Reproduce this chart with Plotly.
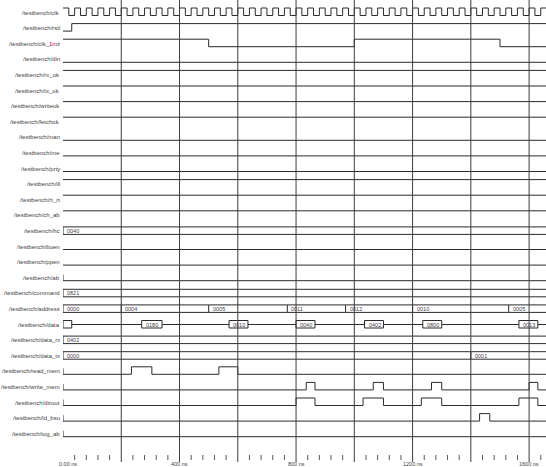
import plotly.graph_objects as go

# ---------------- data ----------------
signal_names = ["clk", "rstl", "clk_1mz", "din", "rx_ok", "tx_ok", "writeok", "fetchok",
                "man", "me", "prty", "ill", "rt_rt", "ch_ab", "hc", "boen", "ppen", "ab",
                "command", "address", "data", "data_rx", "data_tx", "read_mem", "write_mem",
                "dirout", "ld_bsu", "tog_ab"]
label_prefix = "/testbench/"

clk_period_ns = 40
t_end = 1660

# single-bit signals: list of (time_ns, value)
bit_signals = {
    "rstl": [(0, 0), (30, 1)],
    "clk_1mz": [(0, 1), (500, 0), (1000, 1), (1500, 0)],
    "din": [(0, 0)],
    "rx_ok": [(0, 1)],
    "tx_ok": [(0, 1)],
    "writeok": [(0, 1)],
    "fetchok": [(0, 1)],
    "man": [(0, 0)],
    "me": [(0, 0)],
    "prty": [(0, 0)],
    "ill": [(0, 1)],
    "rt_rt": [(0, 1)],
    "ch_ab": [(0, 1)],
    "boen": [(0, 0)],
    "ppen": [(0, 0)],
    "ab": [(0, 0)],
    "read_mem": [(0, 0), (235, 1), (305, 0), (535, 1), (600, 0)],
    "write_mem": [(0, 0), (835, 1), (865, 0), (1065, 1), (1100, 0), (1265, 1), (1300, 0), (1600, 1), (1630, 0)],
    "dirout": [(0, 0), (800, 1), (865, 0), (1030, 1), (1100, 0), (1230, 1), (1300, 0), (1565, 1), (1630, 0)],
    "ld_bsu": [(0, 0), (1430, 1), (1465, 0)],
    "tog_ab": [(0, 0)],
}
undefined_at_start = ["ab", "read_mem", "write_mem", "dirout", "ld_bsu", "tog_ab"]

# bus signals: list of (start_ns, value); None = high impedance
bus_signals = {
    "hc": [(0, "0040")],
    "command": [(0, "0821")],
    "address": [(0, "0000"), (200, "0004"), (500, "0005"), (770, "0011"), (970, "0012"),
                (1200, "0010"), (1530, "0005")],
    "data": [(0, ""), (30, None), (270, "0180"), (340, None), (570, "0010"), (635, None),
             (800, "0040"), (865, None), (1035, "0402"), (1100, None), (1235, "0800"),
             (1300, None), (1565, "0013"), (1630, None)],
    "data_rx": [(0, "0402")],
    "data_tx": [(0, "0000"), (1400, "0001")],
}

grid_times = [200, 400, 600, 800, 1000, 1200, 1400, 1600]
time_label_vals = [0, 400, 800, 1200, 1600]
time_label_text = ["0.00 ns", "400 ns", "800 ns", "1200 ns", "1600 ns"]
minor_tick_step = 40

# ---------------- layout constants (pixels) ----------------
row_first = 12.5
row_step = 15.6
hi_off = -4.5
lo_off = 3.0
bus_top = -4.0
bus_bot = 3.5
wave_color = "#2b2b2b"
label_color = "#3f3f3f"

fig = go.Figure()


def row_y(i):
    return row_first + row_step * i


def level(i, v):
    return row_y(i) + (hi_off if v else lo_off)


annotations = []

for i, name in enumerate(signal_names):
    yc = row_y(i)
    annotations.append(dict(x=0, xref="paper", y=yc, yref="y", text=label_prefix + name,
                            xanchor="right", yanchor="middle", xshift=-1, showarrow=False,
                            font=dict(family="Liberation Sans", size=6, color=label_color)))
    if name == "clk":
        xs, ys = [], []
        t, v = 0, 1
        while t < t_end:
            xs.append(t)
            ys.append(level(i, v))
            t += clk_period_ns // 2
            v = 1 - v
        xs.append(t_end)
        ys.append(ys[-1])
        fig.add_trace(go.Scatter(x=xs, y=ys, mode="lines", line=dict(color=wave_color, width=1, shape="hv"),
                                 hoverinfo="skip", showlegend=False))
    elif name in bit_signals:
        ch = bit_signals[name]
        xs = [c[0] for c in ch] + [t_end]
        ys = [level(i, c[1]) for c in ch] + [level(i, ch[-1][1])]
        if name in undefined_at_start:
            xs = [0] + xs
            ys = [yc + hi_off + 1.5] + ys
        fig.add_trace(go.Scatter(x=xs, y=ys, mode="lines", line=dict(color=wave_color, width=1, shape="hv"),
                                 hoverinfo="skip", showlegend=False))
    elif name in bus_signals:
        segs = bus_signals[name]
        xs, ys = [], []
        for k, (t0, val) in enumerate(segs):
            t1 = segs[k + 1][0] if k + 1 < len(segs) else t_end
            xs += [t0, t0, None]
            ys += [yc + bus_top, yc + bus_bot, None]
            if val is None:
                xs += [t0, t1, None]
                ys += [yc, yc, None]
            else:
                xs += [t0, t1, None, t0, t1, None]
                ys += [yc + bus_top, yc + bus_top, None, yc + bus_bot, yc + bus_bot, None]
                if val:
                    annotations.append(dict(x=t0, y=yc, xref="x", yref="y", text=val, xanchor="left",
                                            yanchor="middle", xshift=2, showarrow=False,
                                            font=dict(family="Liberation Sans", size=5.5, color=label_color)))
        fig.add_trace(go.Scatter(x=xs, y=ys, mode="lines", line=dict(color=wave_color, width=1),
                                 hoverinfo="skip", showlegend=False))

# vertical grid lines
gx, gy = [], []
for g in grid_times:
    gx += [g, g, None]
    gy += [0, 462, None]
fig.add_trace(go.Scatter(x=gx, y=gy, mode="lines", line=dict(color="#3c3c3c", width=1),
                         hoverinfo="skip", showlegend=False))

# minor ticks on time axis
mx, my = [], []
t = minor_tick_step
while t < t_end:
    if t % 200 != 0:
        mx += [t, t, None]
        my += [455, 460, None]
    t += minor_tick_step
fig.add_trace(go.Scatter(x=mx, y=my, mode="lines", line=dict(color="#555555", width=1),
                         hoverinfo="skip", showlegend=False))

for v, s in zip(time_label_vals, time_label_text):
    annotations.append(dict(x=v, y=463.5, xref="x", yref="y", text=s, xanchor="center", yanchor="middle",
                            xshift=5 if v == 0 else 0,
                            showarrow=False, font=dict(family="Liberation Sans", size=5.5, color=label_color)))

fig.update_layout(
    width=546, height=467,
    margin=dict(l=63, r=0, t=0, b=0),
    paper_bgcolor="white", plot_bgcolor="white",
    xaxis=dict(range=[0, 1658], visible=False, fixedrange=True),
    yaxis=dict(range=[467, 0], visible=False, fixedrange=True),
    annotations=annotations,
    showlegend=False,
)

fig.write_html("out.html", config={"displayModeBar": False},
               post_script="document.body.style.margin='0';document.body.style.padding='0';")
